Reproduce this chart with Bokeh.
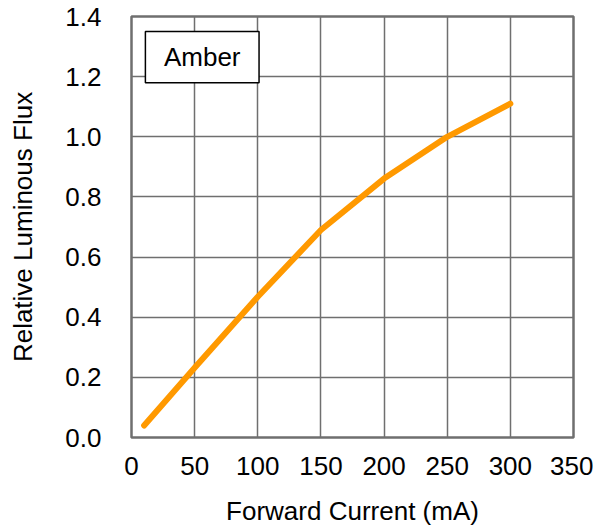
from bokeh.plotting import figure
from bokeh.models import Range1d, FixedTicker, PrintfTickFormatter, BoxAnnotation, Label
from bokeh.embed import file_html
from bokeh.resources import INLINE

# Data
current_ma = [10, 50, 100, 150, 200, 250, 300]
relative_flux = [0.04, 0.232, 0.468, 0.69, 0.861, 1.0, 1.11]
x_ticks = [0, 50, 100, 150, 200, 250, 300, 350]
y_ticks = [0.0, 0.2, 0.4, 0.6, 0.8, 1.0, 1.2, 1.4]
series_name = "Amber"

FONT = "Liberation Sans"
GRID = "#6f6f6f"
FS = "26px"

p = figure(width=593, height=528, output_backend="svg", toolbar_location=None,
           x_range=Range1d(0, 350), y_range=Range1d(0, 1.4),
           min_border_left=131, min_border_right=20, min_border_top=16, min_border_bottom=90)

p.line(current_ma, relative_flux, line_color="#FF9900", line_width=6, line_cap="round", line_join="round")

p.xaxis.ticker = FixedTicker(ticks=x_ticks)
p.yaxis.ticker = FixedTicker(ticks=y_ticks)
p.yaxis.formatter = PrintfTickFormatter(format="%.1f")

for ax in (p.xaxis, p.yaxis):
    ax.axis_line_color = None
    ax.major_tick_line_color = None
    ax.minor_tick_line_color = None
    ax.major_tick_in = 0
    ax.major_tick_out = 0
    ax.major_label_text_font = FONT
    ax.major_label_text_font_size = FS
    ax.major_label_text_color = "black"
    ax.axis_label_text_font = FONT
    ax.axis_label_text_font_size = FS
    ax.axis_label_text_font_style = "normal"
    ax.axis_label_text_color = "black"

p.xaxis.axis_label = "Forward Current (mA)"
p.yaxis.axis_label = "Relative Luminous Flux"
p.xaxis.major_label_standoff = 19
p.yaxis.major_label_standoff = 30
p.xaxis.axis_label_standoff = 18
p.yaxis.axis_label_standoff = 24

p.xgrid.grid_line_color = GRID
p.ygrid.grid_line_color = GRID
p.xgrid.grid_line_width = 1.5
p.ygrid.grid_line_width = 1.5
p.outline_line_color = GRID
p.outline_line_width = 2.5
p.background_fill_color = "white"
p.border_fill_color = "white"

box = BoxAnnotation(left=11, right=101, top=1.35, bottom=1.18,
                    fill_color="white", fill_alpha=1.0,
                    line_color="black", line_width=1.5, line_alpha=1.0)
p.add_layout(box)
lbl = Label(x=56, y=1.265, text=series_name, text_align="center", text_baseline="middle",
            text_font=FONT, text_font_size=FS, text_color="black")
p.add_layout(lbl)

open("out.html", "w").write(file_html(p, INLINE))
